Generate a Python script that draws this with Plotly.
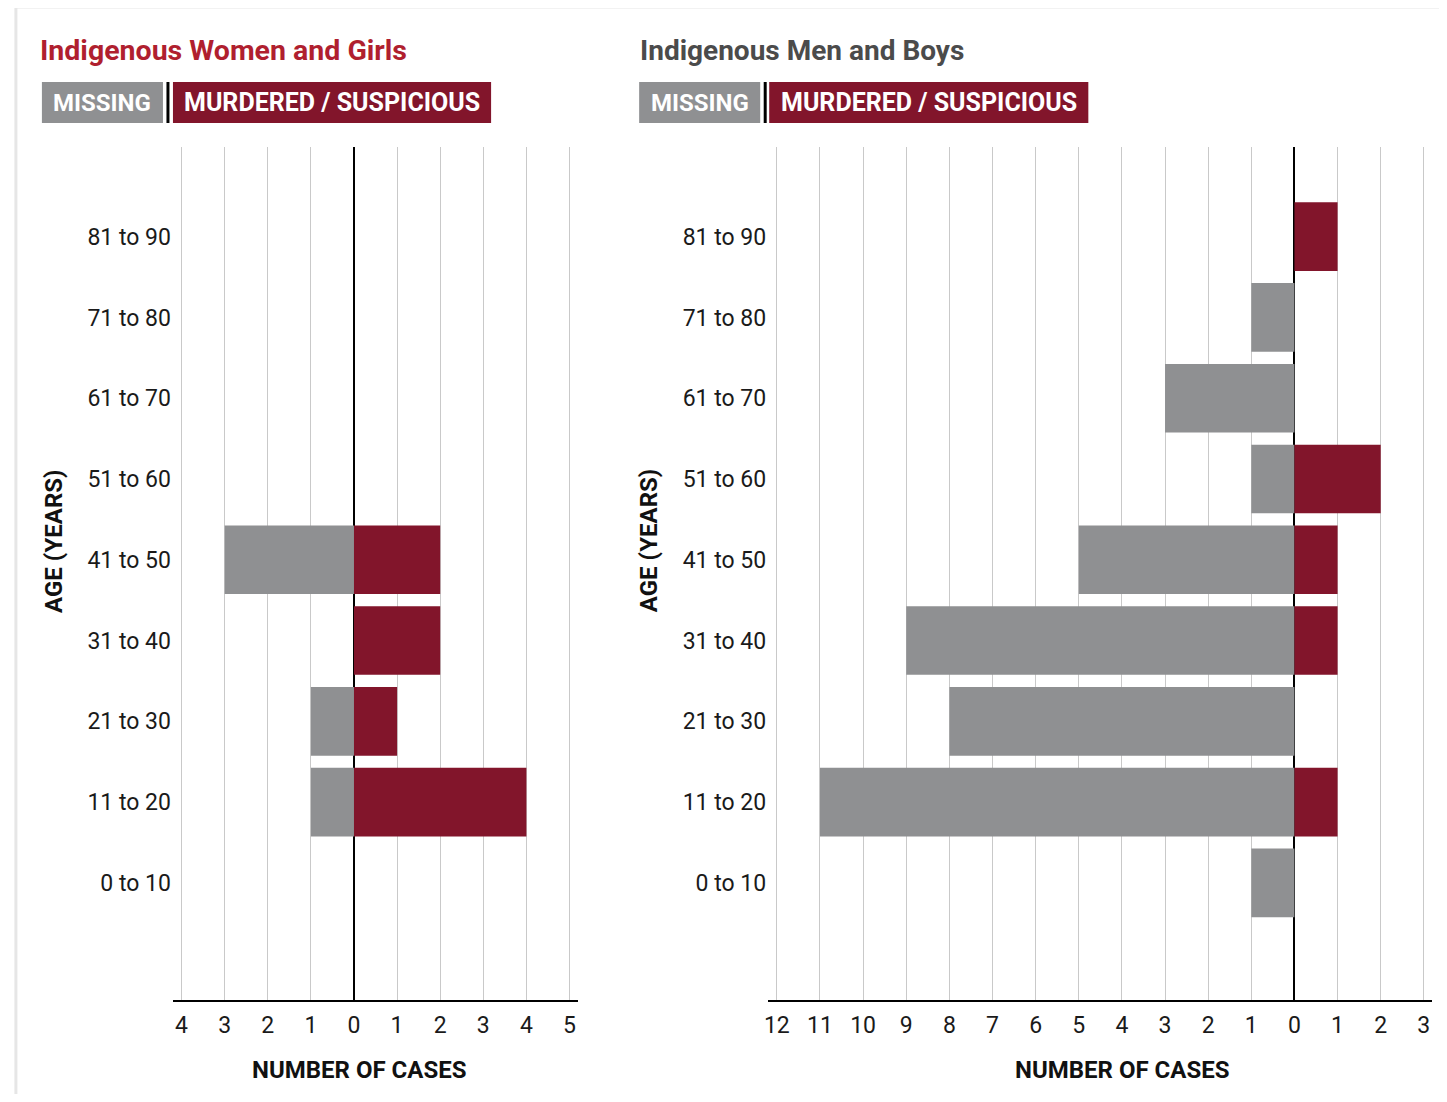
import plotly.graph_objects as go

PAGE_W, PAGE_H = 1447, 1102
OFF = 8  # default body margin of the page
W, H = PAGE_W - 2 * OFF, PAGE_H - 2 * OFF

age_groups = ["0 to 10", "11 to 20", "21 to 30", "31 to 40", "41 to 50",
              "51 to 60", "61 to 70", "71 to 80", "81 to 90"]

women_missing = [0, 1, 1, 0, 3, 0, 0, 0, 0]
women_murdered = [0, 4, 1, 2, 2, 0, 0, 0, 0]

men_missing = [1, 11, 8, 9, 5, 1, 3, 1, 0]
men_murdered = [0, 1, 0, 1, 1, 2, 0, 0, 1]

women_ticks = [-4, -3, -2, -1, 0, 1, 2, 3, 4, 5]
men_ticks = list(range(-12, 4))

GRAY = "#8f9092"
MAROON = "#82152b"
TITLE_RED = "#b01f2f"
TITLE_GRAY = "#4b4b4b"
FONT = "Roboto"

def px_x(x):
    x = (x - 4.13) / 0.9968
    return (x - OFF) / W

def px_y(y):
    return 1 - (y - OFF) / H

fig = go.Figure()

panels = [
    dict(missing=women_missing, murdered=women_murdered, xa="x", ya="y"),
    dict(missing=men_missing, murdered=men_murdered, xa="x2", ya="y2"),
]

for p in panels:
    fig.add_trace(go.Bar(
        y=age_groups, x=[-v for v in p["missing"]], orientation="h",
        marker=dict(color=GRAY, line=dict(width=0)), width=0.85,
        xaxis=p["xa"], yaxis=p["ya"], showlegend=False, hoverinfo="skip"))
    fig.add_trace(go.Bar(
        y=age_groups, x=p["murdered"], orientation="h",
        marker=dict(color=MAROON, line=dict(width=0)), width=0.85,
        xaxis=p["xa"], yaxis=p["ya"], showlegend=False, hoverinfo="skip"))

ydom = [px_y(1000), px_y(147)]
common_x = dict(showgrid=True, gridcolor="#c9c9c9", gridwidth=1,
                zeroline=True, zerolinecolor="black", zerolinewidth=2,
                showline=True, linecolor="black", linewidth=2,
                ticks="outside", ticklen=3, tickcolor="rgba(0,0,0,0)",
                tickfont=dict(family=FONT, size=23, color="#1a1a1a"),
                fixedrange=True)
common_y = dict(type="category", categoryorder="array", categoryarray=age_groups,
                range=[-1.45, 9.11], showgrid=False, zeroline=False, showline=False,
                ticks="", ticklabelstandoff=1,
                tickfont=dict(family=FONT, size=23, color="#1a1a1a"),
                domain=ydom, fixedrange=True)

fig.update_layout(
    width=W, height=H, autosize=False,
    margin=dict(l=0, r=0, t=0, b=0),
    paper_bgcolor="white", plot_bgcolor="white",
    barmode="relative", bargap=0.15,
    xaxis=dict(domain=[px_x(173), px_x(578)], range=[-4.2, 5.2],
               tickvals=women_ticks, ticktext=[str(abs(t)) for t in women_ticks],
               anchor="y", **common_x),
    yaxis=dict(anchor="x", **common_y),
    xaxis2=dict(domain=[px_x(768), px_x(1432)], range=[-12.2, 3.2],
                tickvals=men_ticks, ticktext=[str(abs(t)) for t in men_ticks],
                anchor="y2", **common_x),
    yaxis2=dict(anchor="x2", **common_y),
)

shapes = []
# card border (top and left edges)
shapes.append(dict(type="line", xref="paper", yref="paper",
                   x0=px_x(16), x1=1.05, y0=px_y(7), y1=px_y(7),
                   line=dict(color="#e6e6e6", width=3)))
shapes.append(dict(type="line", xref="paper", yref="paper",
                   x0=px_x(16), x1=px_x(16), y0=px_y(7), y1=-0.05,
                   line=dict(color="#e6e6e6", width=3)))

annotations = []
legend_specs = [
    dict(gx0=42, gx1=163, bar=168, mx0=173, mx1=491),
    dict(gx0=639, gx1=760, bar=765, mx0=769, mx1=1088),
]
for L in legend_specs:
    shapes.append(dict(type="rect", xref="paper", yref="paper",
                       x0=px_x(L["gx0"]), x1=px_x(L["gx1"]), y0=px_y(123), y1=px_y(82),
                       fillcolor=GRAY, line=dict(width=0)))
    shapes.append(dict(type="rect", xref="paper", yref="paper",
                       x0=px_x(L["mx0"]), x1=px_x(L["mx1"]), y0=px_y(123), y1=px_y(82),
                       fillcolor=MAROON, line=dict(width=0)))
    shapes.append(dict(type="line", xref="paper", yref="paper",
                       x0=px_x(L["bar"]), x1=px_x(L["bar"]), y0=px_y(123), y1=px_y(82),
                       line=dict(color="black", width=3)))
    annotations.append(dict(xref="paper", yref="paper",
                            x=px_x((L["gx0"] + L["gx1"]) / 2), y=px_y(103),
                            text="<b>MISSING</b>", showarrow=False,
                            font=dict(family=FONT, size=24, color="white"),
                            xanchor="center", yanchor="middle"))
    annotations.append(dict(xref="paper", yref="paper",
                            x=px_x((L["mx0"] + L["mx1"]) / 2), y=px_y(103),
                            text="<b>MURDERED / SUSPICIOUS</b>", showarrow=False,
                            font=dict(family=FONT, size=25, color="white"),
                            xanchor="center", yanchor="middle"))

annotations.append(dict(xref="paper", yref="paper", x=px_x(38), y=px_y(50),
                        text="<b>Indigenous Women and Girls</b>", showarrow=False,
                        font=dict(family=FONT, size=28.5, color=TITLE_RED),
                        xanchor="left", yanchor="middle"))
annotations.append(dict(xref="paper", yref="paper", x=px_x(638), y=px_y(50),
                        text="<b>Indigenous Men and Boys</b>", showarrow=False,
                        font=dict(family=FONT, size=28, color=TITLE_GRAY),
                        xanchor="left", yanchor="middle"))

for cx in (359, 1122):
    annotations.append(dict(xref="paper", yref="paper", x=px_x(cx), y=px_y(1070),
                            text="<b>NUMBER OF CASES</b>", showarrow=False,
                            font=dict(family=FONT, size=24, color="#111111"),
                            xanchor="center", yanchor="middle"))
for ax in (54, 649):
    annotations.append(dict(xref="paper", yref="paper", x=px_x(ax), y=px_y(541),
                            text="<b>AGE (YEARS)</b>", showarrow=False, textangle=-90,
                            font=dict(family=FONT, size=24, color="#111111"),
                            xanchor="center", yanchor="middle"))

fig.update_layout(shapes=shapes, annotations=annotations)

fig.write_html("out.html")
